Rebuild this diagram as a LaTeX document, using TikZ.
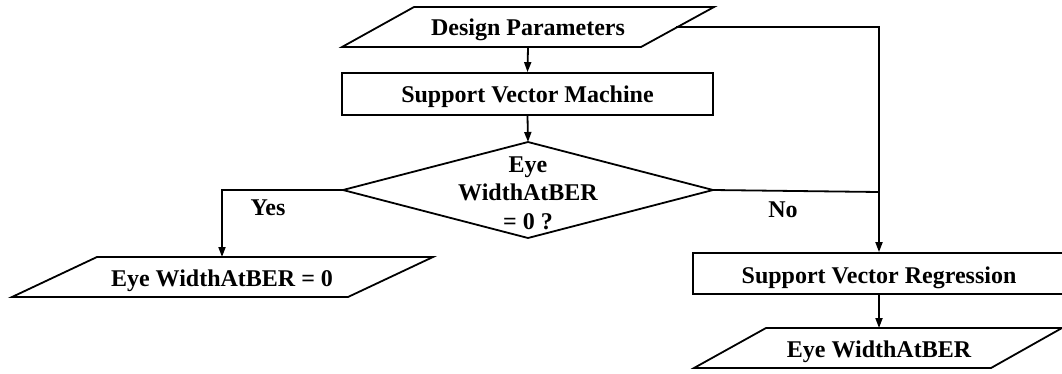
\documentclass[tikz,border=0pt]{standalone}
\usepackage{fontspec}
\setmainfont{Liberation Serif}
\usetikzlibrary{arrows.meta}
\begin{document}
\begin{tikzpicture}[x=1pt,y=-1pt,line width=1.8pt,line join=miter,
  lbl/.style={font=\fontsize{24}{28.5}\selectfont\bfseries,inner sep=0pt,align=center},
  box/.style={draw,font=\fontsize{24}{28.5}\selectfont\bfseries,inner sep=0pt},
  arr/.style={-{Triangle[length=10pt,width=7pt]}}]
\useasboundingbox (0,0) rectangle (1062,373);
% Design Parameters (parallelogram)
\draw (342,47) -- (414,7) -- (714,7) -- (641,47) -- cycle;
\node[lbl,anchor=base] (dp) at (528,35) {Design Parameters};
\coordinate (dpB) at (528,47);
\coordinate (dpR) at (676,27);
% SVM
\node[box,minimum width=371pt,minimum height=42pt,text height=18pt,text depth=2pt] (svm) at (527.5,94) {Support Vector Machine};
% Diamond
\draw (528,142) -- (713,190) -- (528,238) -- (343,190) -- cycle;
\coordinate (dT) at (528,142);
\coordinate (dL) at (343,190);
\coordinate (dR) at (713,190);
\node[lbl] (dec) at (528,193) {Eye\\WidthAtBER\\= 0 ?};
% Yes branch parallelogram
\draw (12,297) -- (97,257) -- (433,257) -- (348,297) -- cycle;
\node[lbl,anchor=base] (zero) at (222,286) {Eye WidthAtBER = 0};
\coordinate (zT) at (222,257);
% SVR
\node[box,minimum width=372pt,minimum height=41pt,text height=20pt,text depth=1pt] (svr) at (879,273.5) {Support Vector Regression};
% Output parallelogram
\draw (694,368) -- (766,328) -- (1062,328) -- (991,368) -- cycle;
\node[lbl,anchor=base] (out) at (879,357) {Eye WidthAtBER};
\coordinate (oT) at (879,328);
\coordinate (j) at (879,192);
% connectors
\draw[arr] (dpB) -- (svm.north);
\draw[arr] (svm.south) -- (dT);
\draw[arr] (dL) -| (zT);
\draw (dR) -- (j);
\draw[arr] (dpR) -| (svr.north);
\draw[arr] (svr.south) -- (oT);
% labels
\node[lbl,anchor=base] (yes) at (268,215) {Yes};
\node[lbl,anchor=base] (no) at (783,217) {No};
\end{tikzpicture}
\end{document}
